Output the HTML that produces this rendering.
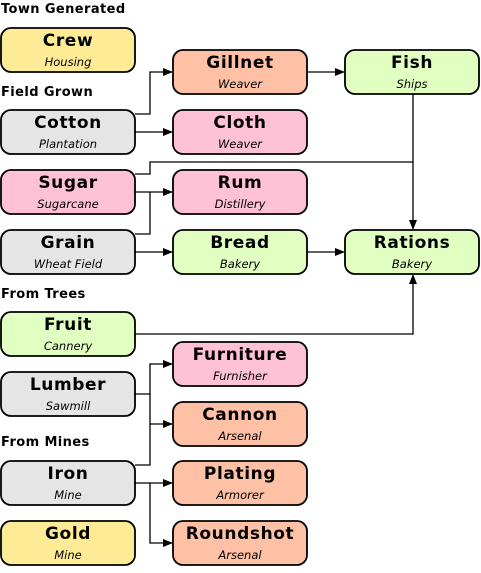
<!DOCTYPE html>
<html><head><meta charset="utf-8"><style>
body{margin:0;background:#fff;width:481px;height:568px;overflow:hidden}
text{font-family:"DejaVu Sans","Liberation Sans",sans-serif}
.h{font-size:13px;font-weight:bold;letter-spacing:0.4px}
.t{font-size:17px;font-weight:bold;text-anchor:middle;letter-spacing:0.6px}
.s{font-size:11.5px;font-style:italic;text-anchor:middle}
.l{fill:none;stroke:#000;stroke-width:1.3}
</style></head><body>
<svg width="481" height="568" viewBox="0 0 481 568">
<defs><marker id="a" markerWidth="10" markerHeight="8" refX="9" refY="4" orient="auto" markerUnits="userSpaceOnUse"><path d="M0,0 L10,4 L0,8 z" fill="#000"/></marker></defs>
<text class="h" x="1" y="13">Town Generated</text>
<text class="h" x="1" y="96">Field Grown</text>
<text class="h" x="1" y="298">From Trees</text>
<text class="h" x="1" y="446">From Mines</text>
<g>
<path class="l" d="M135,114 H150 V72 H172" marker-end="url(#a)"/>
<path class="l" d="M135,132 H172" marker-end="url(#a)"/>
<path class="l" d="M135,174 H150 V162 H413"/>
<path class="l" d="M135,192 H172" marker-end="url(#a)"/>
<path class="l" d="M135,234 H150 V192"/>
<path class="l" d="M135,252 H172" marker-end="url(#a)"/>
<path class="l" d="M307,252 H344" marker-end="url(#a)"/>
<path class="l" d="M307,72 H344" marker-end="url(#a)"/>
<path class="l" d="M413,94 V229" marker-end="url(#a)"/>
<path class="l" d="M135,334 H413 V275" marker-end="url(#a)"/>
<path class="l" d="M135,394 H150 V364 H172" marker-end="url(#a)"/>
<path class="l" d="M150,394 V424 H172" marker-end="url(#a)"/>
<path class="l" d="M135,465 H150 V424"/>
<path class="l" d="M135,483 H172" marker-end="url(#a)"/>
<path class="l" d="M150,483 V543 H172" marker-end="url(#a)"/>
</g>
<g id="boxes"></g>
</svg>
<script>
const boxes=[
["crew","Crew","Housing",1,28,"#fdeb95"],
["cotton","Cotton","Plantation",1,110,"#e5e5e5"],
["sugar","Sugar","Sugarcane",1,170,"#ffc1d5"],
["grain","Grain","Wheat Field",1,230,"#e5e5e5"],
["fruit","Fruit","Cannery",1,312,"#e1ffc1"],
["lumber","Lumber","Sawmill",1,372,"#e5e5e5"],
["iron","Iron","Mine",1,461,"#e5e5e5"],
["gold","Gold","Mine",1,521,"#fdeb95"],
["gillnet","Gillnet","Weaver",173,50,"#ffc1a6"],
["cloth","Cloth","Weaver",173,110,"#ffc1d5"],
["rum","Rum","Distillery",173,170,"#ffc1d5"],
["bread","Bread","Bakery",173,230,"#e1ffc1"],
["furniture","Furniture","Furnisher",173,342,"#ffc1d5"],
["cannon","Cannon","Arsenal",173,402,"#ffc1a6"],
["plating","Plating","Armorer",173,461,"#ffc1a6"],
["roundshot","Roundshot","Arsenal",173,521,"#ffc1a6"],
["fish","Fish","Ships",345,50,"#e1ffc1"],
["rations","Rations","Bakery",345,230,"#e1ffc1"]];
const g=document.getElementById('boxes');const NS="http://www.w3.org/2000/svg";
boxes.forEach(b=>{
const gg=document.createElementNS(NS,'g');


gg.innerHTML=`<rect x="${b[3]}" y="${b[4]}" width="134" height="44" rx="10" fill="${b[5]}" stroke="#000" stroke-width="1.8"/><text class="t" x="${b[3]+67}" y="${b[4]+18}">${b[1]}</text><text class="s" x="${b[3]+67}" y="${b[4]+38}">${b[2]}</text>`;
g.appendChild(gg);});
</script>
</body></html>
